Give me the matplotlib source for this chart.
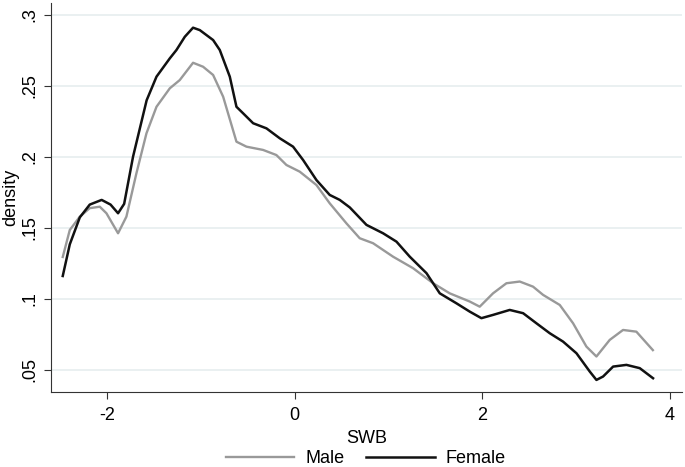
import matplotlib
matplotlib.use('Agg')
import matplotlib.pyplot as plt

plt.rcParams['font.family'] = ['Liberation Sans', 'DejaVu Sans']

# kernel density
male_x = [-2.475, -2.4, -2.293, -2.187, -2.08, -2.009, -1.885, -1.796, -1.689, -1.582,
          -1.475, -1.333, -1.227, -1.085, -0.978, -0.871, -0.764, -0.622, -0.515, -0.338,
          -0.196, -0.089, 0.053, 0.231, 0.373, 0.551, 0.693, 0.835, 1.049, 1.262,
          1.476, 1.653, 1.867, 1.973, 2.115, 2.258, 2.4, 2.542, 2.649, 2.827,
          2.969, 3.111, 3.218, 3.36, 3.502, 3.644, 3.82]
male_y = [0.1296, 0.1486, 0.158, 0.164, 0.165, 0.1604, 0.1463, 0.158, 0.1886, 0.2167,
          0.2354, 0.2484, 0.2542, 0.2664, 0.2636, 0.2578, 0.2425, 0.2108, 0.2073, 0.205,
          0.2014, 0.1944, 0.1897, 0.1803, 0.1674, 0.1533, 0.1428, 0.1393, 0.1298, 0.1217,
          0.1111, 0.104, 0.0982, 0.0946, 0.104, 0.1111, 0.1123, 0.1087, 0.1029, 0.0958,
          0.0829, 0.0665, 0.0595, 0.0712, 0.0782, 0.077, 0.064]

female_x = [-2.475, -2.4, -2.293, -2.187, -2.06, -1.965, -1.885, -1.82, -1.725, -1.58,
            -1.475, -1.333, -1.262, -1.173, -1.085, -1.013, -0.942, -0.871, -0.8, -0.693,
            -0.622, -0.551, -0.444, -0.302, -0.16, -0.018, 0.089, 0.231, 0.373, 0.48,
            0.587, 0.765, 0.942, 1.085, 1.227, 1.405, 1.547, 1.724, 1.867, 1.991,
            2.115, 2.293, 2.436, 2.578, 2.72, 2.862, 3.005, 3.147, 3.218, 3.289,
            3.396, 3.538, 3.68, 3.822]
female_y = [0.1162, 0.1385, 0.1575, 0.1665, 0.1698, 0.1665, 0.1604, 0.167, 0.2003, 0.240,
            0.2566, 0.2695, 0.2754, 0.2847, 0.2911, 0.2894, 0.2859, 0.2824, 0.2754, 0.2566,
            0.2354, 0.2308, 0.2238, 0.2202, 0.2132, 0.2073, 0.1979, 0.1838, 0.1733, 0.1698,
            0.1645, 0.1522, 0.1463, 0.1404, 0.1298, 0.1182, 0.104, 0.097, 0.0911, 0.0865,
            0.0888, 0.0923, 0.090, 0.0829, 0.0759, 0.070, 0.0618, 0.0489, 0.043, 0.0454,
            0.0524, 0.0536, 0.0513, 0.0442]

yticks = [0.05, 0.1, 0.15, 0.2, 0.25, 0.3]
ytick_labels = ['.05', '.1', '.15', '.2', '.25', '.3']
xticks = [-2, 0, 2, 4]

fig = plt.figure(figsize=(6.85, 4.67), dpi=100)
ax = fig.add_axes([0.0745, 0.1606, 0.921, 0.833])

ax.plot(male_x, male_y, color='#999999', lw=1.7, label='Male')
ax.plot(female_x, female_y, color='#111111', lw=1.8, label='Female')

ax.set_xlim(-2.6, 4.13)
ax.set_ylim(0.0345, 0.3085)
ax.set_yticks(yticks)
ax.set_yticklabels(ytick_labels, rotation=90, va='center')
ax.set_xticks(xticks)
ax.set_xticklabels(['-2', '0', '2', '4'])
ax.tick_params(labelsize=13, length=5, color='#333333')
ax.tick_params(axis='x', pad=6)
ax.tick_params(axis='y', pad=4)
ax.grid(axis='y', color='#e6eeef', lw=1.2)
ax.set_axisbelow(True)
for s in ['top', 'right']:
    ax.spines[s].set_visible(False)
for s in ['left', 'bottom']:
    ax.spines[s].set_color('#333333')

ax.set_xlabel('SWB', fontsize=13, labelpad=4)
ax.set_ylabel('density', fontsize=13, labelpad=2)

fig.legend(loc='lower center', bbox_to_anchor=(0.534, -0.035), ncol=2, frameon=False,
           fontsize=13, handlelength=3.8, handletextpad=0.6, columnspacing=1.2)

fig.savefig('out.png', dpi=100)
